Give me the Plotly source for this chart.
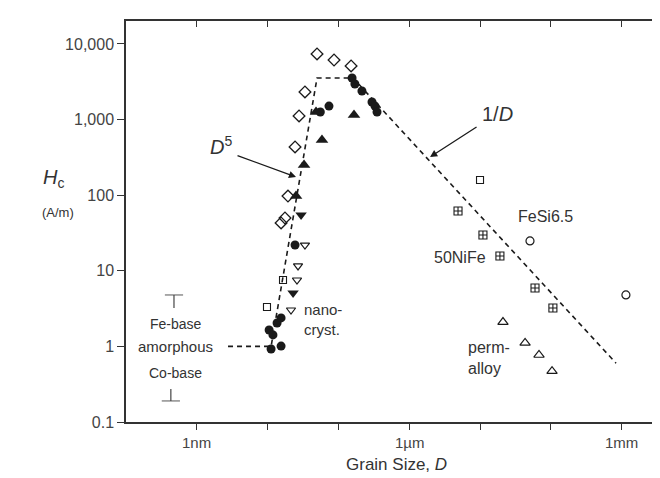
import numpy as np
import plotly.graph_objects as go

# ---------------- data (grain size D in nm, coercivity Hc in A/m) ----------------
diamond_D = [49.9, 86.7, 151, 33.7, 27.8, 24.4, 19.4, 15.5, 17.6]
diamond_Hc = [7380, 6140, 5120, 2320, 1117, 435, 97.5, 42.9, 49.9]

fcircle_D = [156, 171, 215, 298, 329, 351, 73.6, 55.5, 24.4, 13.6, 15.5, 10.5, 11.9, 11.2, 15.5]
fcircle_Hc = [3550, 2960, 2390, 1710, 1510, 1260, 1510, 1260, 21.9, 2.04, 2.38, 1.65, 1.42, 0.925, 1.01]

ftri_up_D = [48.3, 58.6, 166, 32.7, 25.2]
ftri_up_Hc = [1260, 537, 1151, 250, 97.5]

ftri_dn_D = [29.7, 22.9]
ftri_dn_Hc = [54.7, 5.08]

otri_dn_D = [33.7, 26.9, 26.0, 21.4]
otri_dn_Hc = [21.9, 11.6, 7.55, 3.03]

osquare_D = [16.5, 9.8, 10000]
osquare_Hc = [7.55, 3.32, 159]

nife_D = [4890, 11000, 19100, 59800, 107000]
nife_Hc = [61.8, 29.8, 15.7, 5.92, 3.22]

fesi_D = [50800, 1150000]
fesi_Hc = [24.8, 4.79]

permalloy_D = [21100, 43300, 68100, 104000]
permalloy_Hc = [2.10, 1.11, 0.77, 0.47]

trend_D = [2.76, 11.2, 49.9, 161, 834000]
trend_Hc = [1.0, 1.0, 3550, 3550, 0.60]

fe_base_D = [0.476, 0.476]
fe_base_Hc = [4.79, 3.22]
co_base_D = [0.43, 0.43]
co_base_Hc = [0.19, 0.273]

y_tickvals = [0.1, 1, 10, 100, 1000, 10000]
y_ticktext = ["0.1", "1", "10", "100", "1,000", "10,000"]
x_tickvals = [1, 10, 100, 1e3, 1e4, 1e5, 1e6]
x_label_vals = [1, 1e3, 1e6]
x_label_text = ["1nm", "1\u00b5m", "1mm"]

FONT = "Liberation Sans, Arial, sans-serif"
INK = "#1a1a1a"
TXT = "#333333"
L = np.log10

fig = go.Figure()

fig.add_trace(go.Scatter(x=trend_D, y=trend_Hc, mode="lines",
                         line=dict(color=INK, width=1.6, dash="5px,4px"),
                         hoverinfo="skip", showlegend=False))

def pts(x, y, symbol, size, lw=1.3):
    fig.add_trace(go.Scatter(x=x, y=y, mode="markers", showlegend=False,
                             marker=dict(symbol=symbol, size=size, color=INK,
                                         line=dict(color=INK, width=lw))))

pts(diamond_D, diamond_Hc, "diamond-open", 9)
pts(fcircle_D, fcircle_Hc, "circle", 9, 0)
pts(ftri_up_D, ftri_up_Hc, "triangle-up", 11, 0)
pts(ftri_dn_D, ftri_dn_Hc, "triangle-down", 10, 0)
pts(otri_dn_D, otri_dn_Hc, "triangle-down-open", 8, 1.2)
pts(osquare_D, osquare_Hc, "square-open", 7, 1.1)
pts(nife_D, nife_Hc, "square-cross-open", 8, 1.1)
pts(fesi_D, fesi_Hc, "circle-open", 8, 1.2)
pts(permalloy_D, permalloy_Hc, "triangle-up-open", 9, 1.2)

# amorphous range bars
for xs, ys in [(fe_base_D, fe_base_Hc), (co_base_D, co_base_Hc)]:
    fig.add_trace(go.Scatter(x=xs, y=ys, mode="lines+markers", showlegend=False,
                             line=dict(color="#444444", width=1.2),
                             marker=dict(symbol="line-ew-open", size=[13, 0],
                                         line=dict(color="#444444", width=1.3))))

# invisible trace for the mirrored top/right axes
fig.add_trace(go.Scatter(x=[1], y=[1], xaxis="x2", yaxis="y2", mode="markers",
                         marker=dict(opacity=0), hoverinfo="skip", showlegend=False))

xr = [-1, 6.655]
yr = [-1, 4.304]

fig.update_layout(
    width=660, height=478,
    margin=dict(l=118, r=0, t=13, b=64),
    paper_bgcolor="white", plot_bgcolor="white",
    font=dict(family=FONT, color=TXT),
    xaxis=dict(type="log", range=xr, tickvals=x_tickvals, showticklabels=False,
               ticks="outside", ticklen=6, tickwidth=1.3, tickcolor="#333",
               showline=True, linecolor="#333", linewidth=1.5,
               showgrid=False, zeroline=False),
    yaxis=dict(type="log", range=yr, tickvals=y_tickvals, ticktext=y_ticktext,
               ticks="outside", ticklen=7, tickwidth=1.3, tickcolor="#333",
               showline=True, linecolor="#333", linewidth=1.5,
               showgrid=False, zeroline=False, tickfont=dict(size=16, color="#444")),
    xaxis2=dict(type="log", range=xr, overlaying="x", side="top", anchor="y",
                tickvals=x_tickvals, showticklabels=False, ticks="inside",
                ticklen=6, tickwidth=1.2, tickcolor="#333", showline=True,
                linecolor="#333", linewidth=1.5, showgrid=False, zeroline=False),
    yaxis2=dict(type="log", range=yr, overlaying="y", side="right", anchor="x",
                tickvals=y_tickvals, showticklabels=False, ticks="inside",
                ticklen=6, tickwidth=1.2, tickcolor="#333", showline=False,
                showgrid=False, zeroline=False),
)

ann = []
def txt(x, y, text, size=15, xanchor="center", yanchor="middle", align="center"):
    ann.append(dict(x=L(x), y=L(y), xref="x", yref="y", text=text, showarrow=False,
                    font=dict(size=size, family=FONT, color=TXT),
                    xanchor=xanchor, yanchor=yanchor, align=align))

txt(2.2, 461, "<i>D</i><sup>5</sup>", size=20)
txt(17900, 1186, "1/<i>D</i>", size=20)
txt(0.508, 1.98, "Fe-base", size=14)
txt(0.508, 1.01, "amorphous", size=15)
txt(0.508, 0.445, "Co-base", size=14)
txt(30.6, 2.3, "nano-<br>cryst.", size=15, xanchor="left", align="left")
txt(32200, 51.5, "FeSi6.5", size=16, xanchor="left")
txt(2100, 14.8, "50NiFe", size=16, xanchor="left")
txt(6340, 0.70, "perm-<br>alloy", size=16, xanchor="left", align="left")

# x tick labels
for v, t in zip(x_label_vals, x_label_text):
    ann.append(dict(x=L(v), y=(414 - 434) / 401, xref="x", yref="paper", text=t,
                    showarrow=False, yanchor="middle",
                    font=dict(size=15, family=FONT, color="#444")))

# arrows
for head, tail in [((25.2, 174), (3.58, 340)), ((1970, 320), (9380, 822))]:
    ann.append(dict(x=L(head[0]), y=L(head[1]), ax=L(tail[0]), ay=L(tail[1]),
                    xref="x", yref="y", axref="x", ayref="y", text="",
                    showarrow=True, arrowhead=2, arrowsize=1.1, arrowwidth=1.3,
                    arrowcolor=INK))

# axis titles
ann.append(dict(x=0, y=(414 - 170) / 401, xref="paper", yref="paper", xshift=-85,
                text="<i>H</i><sub>c</sub>", showarrow=False,
                font=dict(size=20, family=FONT, color=TXT)))
ann.append(dict(x=0, y=(414 - 204) / 401, xref="paper", yref="paper", xshift=-86,
                text="(A/m)", showarrow=False,
                font=dict(size=13, family=FONT, color=TXT)))
ann.append(dict(x=(388 - 118) / 542, y=(414 - 468) / 401, xref="paper", yref="paper",
                text="Grain Size, <i>D</i>", showarrow=False,
                font=dict(size=17, family=FONT, color=TXT)))

fig.update_layout(annotations=ann)
fig.write_html("out.html")
